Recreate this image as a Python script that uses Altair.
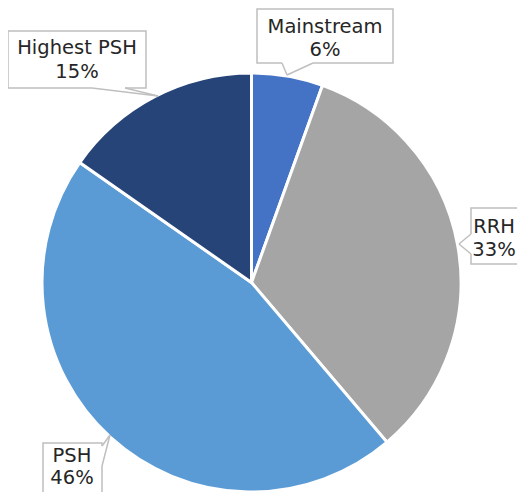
import altair as alt
import pandas as pd

# ---- data ----
categories = ["Mainstream", "RRH", "PSH", "Highest PSH"]
shares = [5.5, 33.3, 45.9, 15.3]
pct_labels = ["6%", "33%", "46%", "15%"]
colors = ["#4472C4", "#A5A5A5", "#5B9BD5", "#264478"]

# ---- callout layout (page pixels; converted to pie-radius units below) ----
CX, CY, R = 251.5, 282.5, 209.5
box_x0 = [257, 471, 43, 8]
box_x1 = [393, 540, 102, 146]
box_y0 = [9, 208, 443, 31]
box_y1 = [63, 264, 530, 88]
text_x = [325, 494, 72, 77]
line1_y = [27, 227, 456, 48]
line2_y = [50, 250, 478, 72]
wedge_a = [(282, 63), (471, 234), (102, 446), (92, 88)]
wedge_b = [(313, 63), (471, 254), (102, 466), (125, 88)]
wedge_tip = [(287, 75), (459, 244), (110, 435), (158, 96)]


def u(px):
    return (px - CX) / R


def v(py):
    return (CY - py) / R


pie_df = pd.DataFrame({
    "cat": categories,
    "share": shares,
    "idx": list(range(len(categories))),
})

box_df = pd.DataFrame({
    "x0": [u(a) for a in box_x0], "x1": [u(a) for a in box_x1],
    "y0": [v(a) for a in box_y0], "y1": [v(a) for a in box_y1],
})

text_rows = []
for i, c in enumerate(categories):
    text_rows.append({"t": c, "x": u(text_x[i]), "y": v(line1_y[i])})
    text_rows.append({"t": pct_labels[i], "x": u(text_x[i]), "y": v(line2_y[i])})
text_df = pd.DataFrame(text_rows)

gray_rows, white_rows = [], []
for a, b, t in zip(wedge_a, wedge_b, wedge_tip):
    gray_rows.append({"x": u(a[0]), "y": v(a[1]), "x2": u(t[0]), "y2": v(t[1])})
    gray_rows.append({"x": u(b[0]), "y": v(b[1]), "x2": u(t[0]), "y2": v(t[1])})
    white_rows.append({"x": u(a[0]), "y": v(a[1]), "x2": u(b[0]), "y2": v(b[1])})
gray_df = pd.DataFrame(gray_rows)
white_df = pd.DataFrame(white_rows)

xs = alt.Scale(domain=[-1, 1], nice=False, zero=False)
ys = alt.Scale(domain=[-1, 1], nice=False, zero=False)

pie = alt.Chart(pie_df).mark_arc(stroke="white", strokeWidth=3).encode(
    theta=alt.Theta("share:Q", stack=True),
    order=alt.Order("idx:Q"),
    color=alt.Color("cat:N", scale=alt.Scale(domain=categories, range=colors), legend=None),
)

boxes = alt.Chart(box_df).mark_rect(fill="white", stroke="#BFBFBF", strokeWidth=1.5).encode(
    x=alt.X("x0:Q", scale=xs, axis=None), x2="x1:Q",
    y=alt.Y("y0:Q", scale=ys, axis=None), y2="y1:Q",
)

white_rules = alt.Chart(white_df).mark_rule(color="white", strokeWidth=3).encode(
    x=alt.X("x:Q", scale=xs, axis=None), x2="x2:Q",
    y=alt.Y("y:Q", scale=ys, axis=None), y2="y2:Q",
)

gray_rules = alt.Chart(gray_df).mark_rule(color="#BFBFBF", strokeWidth=1.5).encode(
    x=alt.X("x:Q", scale=xs, axis=None), x2="x2:Q",
    y=alt.Y("y:Q", scale=ys, axis=None), y2="y2:Q",
)

texts = alt.Chart(text_df).mark_text(
    font="DejaVu Sans", fontSize=19.5, color="#262626", align="center", baseline="middle"
).encode(
    x=alt.X("x:Q", scale=xs, axis=None),
    y=alt.Y("y:Q", scale=ys, axis=None),
    text="t:N",
)

chart = alt.layer(pie, boxes, white_rules, gray_rules, texts).properties(
    width=419,
    height=419,
    padding={"left": 34, "top": 65, "right": 56, "bottom": 0},
    autosize=alt.AutoSizeParams(type="none"),
).configure_view(stroke=None)

chart.save("out.html", embed_options={"renderer": "svg", "actions": False})
